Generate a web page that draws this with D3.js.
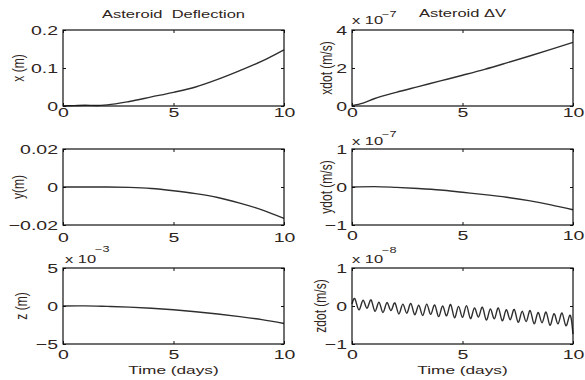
<!DOCTYPE html>
<html>
<head>
<meta charset="utf-8">
<script src="https://cdn.jsdelivr.net/npm/d3@7"></script>
<style>
  body { margin: 0; background: #fff; }
  svg text { font-family: 'Liberation Sans', Arial, sans-serif; fill: #2e2420; white-space: pre; }
</style>
</head>
<body>
<svg id="fig" width="585" height="380"></svg>
<script>
// shared time axis (days)
var timeTicks = [0, 5, 10]
var timeTickLabels = ['0', '5', '10']

// x (m)
var xT = [0, 0.5, 1, 1.5, 2, 3, 4, 5, 6, 7, 8, 9, 10]
var xV = [0, 0.001, 0.002, 0.0012, 0.003, 0.012, 0.024, 0.036, 0.05, 0.07, 0.093, 0.118, 0.148]
var xTicks = [0, 0.1, 0.2]
var xTickLabels = ['0', '0.1', '0.2']

// y (m)
var yT = [0, 1, 2, 3, 4, 5, 6, 7, 8, 9, 10]
var yV = [0, 0, 0, -0.0002, -0.0008, -0.002, -0.0035, -0.0055, -0.0085, -0.012, -0.0165]
var yTicks = [-0.02, 0, 0.02]
var yTickLabels = ['\u22120.02', '0', '0.02']

// z (m), x 1e-3
var zT = [0, 1, 2, 3, 4, 5, 6, 7, 8, 9, 10]
var zV = [0, 0.02, -0.05, -0.15, -0.3, -0.5, -0.75, -1.05, -1.4, -1.8, -2.3]
var zTicks = [-5, 0, 5]
var zTickLabels = ['\u22125', '0', '5']

// xdot (m/s), x 1e-7
var xdotT = [0, 0.5, 1, 2, 3, 4, 5, 6, 7, 8, 9, 10]
var xdotV = [0.02, 0.15, 0.38, 0.72, 1.02, 1.32, 1.62, 1.93, 2.27, 2.62, 2.98, 3.35]
var xdotTicks = [0, 2, 4]
var xdotTickLabels = ['0', '2', '4']

// ydot (m/s), x 1e-7
var ydotT = [0, 1, 2, 3, 4, 5, 6, 7, 8, 9, 10]
var ydotV = [0, 0.01, -0.01, -0.04, -0.08, -0.14, -0.2, -0.27, -0.36, -0.47, -0.6]
var ydotTicks = [-1, 0, 1]
var ydotTickLabels = ['\u22121', '0', '1']

var zdotT = [0, 0.14, 0.32, 0.50, 0.68, 0.86, 1.04, 1.22, 1.40, 1.58, 1.76, 1.94, 2.12, 2.30, 2.48,
  2.66, 2.84, 3.02, 3.20, 3.38, 3.56, 3.74, 3.92, 4.10, 4.28, 4.46, 4.64, 4.82, 5.00, 5.18, 5.36,
  5.54, 5.72, 5.90, 6.08, 6.26, 6.44, 6.62, 6.80, 6.98, 7.16, 7.34, 7.52, 7.70, 7.88, 8.06, 8.24,
  8.42, 8.60, 8.78, 8.96, 9.14, 9.32, 9.50, 9.68, 9.86, 10.0]
var zdotV = [0.05, 0.18, -0.10, 0.15, -0.06, 0.16, -0.14, 0.10, -0.17, 0.09, -0.12, 0.08, -0.21, 0.05, -0.19,
  0.07, -0.23, 0.02, -0.25, 0.05, -0.22, 0.03, -0.28, 0.00, -0.26, 0.04, -0.31, -0.01, -0.30, 0.01, -0.33,
  -0.05, -0.29, -0.03, -0.37, -0.08, -0.34, -0.05, -0.39, -0.10, -0.36, -0.09, -0.43, -0.14, -0.41, -0.12, -0.47,
  -0.17, -0.44, -0.16, -0.51, -0.20, -0.47, -0.18, -0.52, -0.24, -0.74]
var zdotTicks = [-1, 0, 1]
var zdotTickLabels = ['\u22121', '0', '1']

// layout
var cols = [63, 352]
var rows = [30, 149, 268]
var pw = 221
var ph = 76
var sx = 1.5 // the scanned figure is stretched sideways

var panels = [
  {col: 0, row: 0, t: xT, v: xV, ticks: xTicks, labels: xTickLabels, ylabel: 'x (m)', ylx: 19, pad: 2},
  {col: 0, row: 1, t: yT, v: yV, ticks: yTicks, labels: yTickLabels, ylabel: 'y(m)', ylx: 19, pad: 8},
  {col: 0, row: 2, t: zT, v: zV, ticks: zTicks, labels: zTickLabels, ylabel: 'z (m)', ylx: 22, pad: 6,
    exp: {x: 65, y: 263, sup: '\u22123', sy: 252}},
  {col: 1, row: 0, t: xdotT, v: xdotV, ticks: xdotTicks, labels: xdotTickLabels, ylabel: 'xdot (m/s)', ylx: 327, pad: 2,
    exp: {x: 352, y: 24, sup: '\u22127', sy: 17}},
  {col: 1, row: 1, t: ydotT, v: ydotV, ticks: ydotTicks, labels: ydotTickLabels, ylabel: 'ydot (m/s)', ylx: 327, pad: 6,
    exp: {x: 352, y: 145, sup: '\u22127', sy: 137}},
  {col: 1, row: 2, t: zdotT, v: zdotV, ticks: zdotTicks, labels: zdotTickLabels, ylabel: 'zdot (m/s)', ylx: 321, pad: 6,
    exp: {x: 352, y: 263, sup: '\u22128', sy: 253}, curve: d3.curveNatural}
]

var svg = d3.select('#fig')

function wideText (sel, x, y, str, size, anchor) {
  return sel.append('text')
    .attr('transform', 'translate(' + x + ',' + y + ') scale(' + sx + ',1)')
    .attr('text-anchor', anchor || 'start')
    .style('font-size', size + 'px')
    .text(str)
}

panels.forEach(function (p) {
  var left = cols[p.col]
  var top = rows[p.row]
  var x = d3.scaleLinear().domain([0, 10]).range([0, pw])
  var y = d3.scaleLinear().domain([p.ticks[0], p.ticks[2]]).range([ph, 0])

  var g = svg.append('g')
    .attr('transform', 'translate(' + left + ',' + top + ')')

  // curve
  var pts = p.t.map(function (t, i) { return [t, p.v[i]] })
  g.append('path')
    .datum(pts)
    .attr('fill', 'none')
    .attr('stroke', '#2f2f2f')
    .attr('stroke-width', 1.4)
    .attr('d', d3.line()
      .x(function (d) { return x(d[0]) })
      .y(function (d) { return y(d[1]) })
      .curve(p.curve || d3.curveMonotoneX))

  // axes, ticks pointing inward on all four sides
  var bottom = g.append('g')
    .attr('transform', 'translate(0,' + ph + ')')
    .call(d3.axisBottom(x).tickValues(timeTicks).tickSize(-3).tickPadding(p.pad)
      .tickFormat(function (d, i) { return timeTickLabels[i] }))
  var leftAx = g.append('g')
    .call(d3.axisLeft(y).tickValues(p.ticks).tickSize(-3).tickPadding(5 / sx)
      .tickFormat(function (d, i) { return p.labels[i] }))
  g.append('g')
    .call(d3.axisTop(x).tickValues(timeTicks).tickSize(-3).tickFormat(''))
  g.append('g')
    .attr('transform', 'translate(' + pw + ',0)')
    .call(d3.axisRight(y).tickValues(p.ticks).tickSize(-3).tickFormat(''))

  g.selectAll('.domain').remove()
  g.selectAll('.tick line').attr('stroke', '#111')
  bottom.selectAll('text')
    .attr('transform', 'scale(' + sx + ',1)')
    .style('font-size', '13px')
  leftAx.selectAll('text')
    .attr('transform', 'scale(' + sx + ',1)')
    .style('font-size', '13px')
  g.selectAll('g').attr('font-family', null).attr('font-size', null)

  // box
  g.append('rect')
    .attr('width', pw)
    .attr('height', ph)
    .attr('fill', 'none')
    .attr('stroke', '#111')
    .attr('stroke-width', 1.2)

  // y label (glyph height also widened by the stretch)
  svg.append('text')
    .attr('transform', 'translate(' + p.ylx + ',' + (top + ph / 2) + ') scale(1.3,1) rotate(-90)')
    .attr('text-anchor', 'middle')
    .attr('dy', '0.35em')
    .style('font-size', '12px')
    .text(p.ylabel)

  // exponent
  if (p.exp) {
    wideText(svg, p.exp.x, p.exp.y, 'x 10', 11)
    wideText(svg, p.exp.x + 30, p.exp.sy, p.exp.sup, 8.5)
  }
})

// titles and time labels
wideText(svg, cols[0] + pw / 2, 18, 'Asteroid  Deflection', 11, 'middle')
wideText(svg, cols[1] + pw / 2, 17, 'Asteroid \u0394V', 11, 'middle')
wideText(svg, cols[0] + pw / 2, 374, 'Time (days)', 11.5, 'middle')
wideText(svg, cols[1] + pw / 2, 374, 'Time (days)', 11.5, 'middle')
</script>
</body>
</html>
